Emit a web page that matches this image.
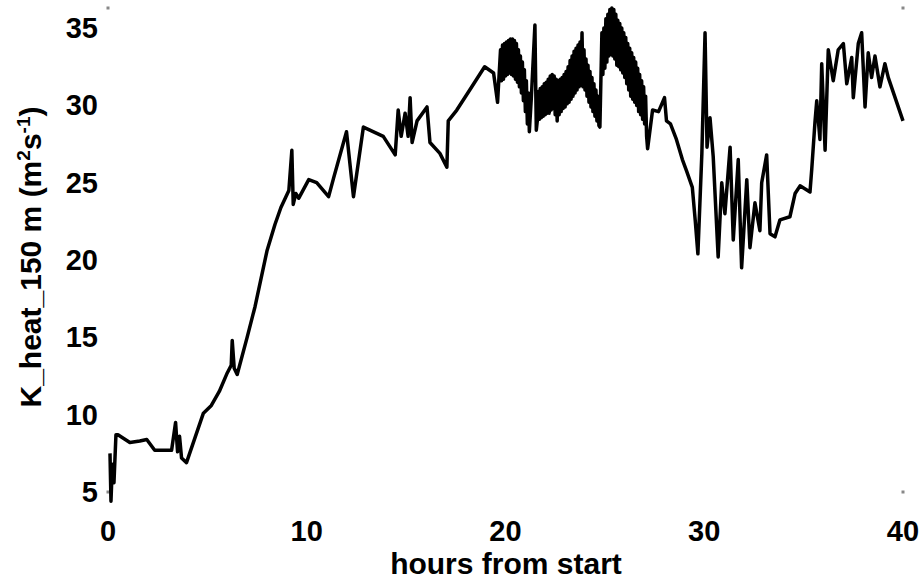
<!DOCTYPE html>
<html>
<head>
<meta charset="utf-8">
<script src="https://cdn.jsdelivr.net/npm/d3@7"></script>
<style>
  html, body { margin: 0; padding: 0; background: #fff; }
  svg { display: block; font-family: "Liberation Sans", Arial, sans-serif; }
</style>
</head>
<body>
<div id="chart"></div>
<script>
// time since start (h)
var hours = [
  0.10, 0.15, 0.22, 0.30, 0.40, 0.50, 1.10, 1.60, 1.95, 2.35, 3.20, 3.40, 3.50, 3.60, 3.70, 3.95,
  4.40, 4.80, 5.20, 5.60, 6.00, 6.20, 6.25, 6.35, 6.50, 7.00, 7.40, 8.00, 8.40, 8.70, 9.10, 9.25,
  9.32, 9.45, 9.60, 10.10, 10.50, 11.10, 11.35, 12.00, 12.35, 12.85, 13.85, 14.45, 14.60, 14.75, 14.95, 15.10,
  15.20, 15.30, 15.55, 16.05, 16.20, 16.70, 17.05, 17.12, 17.55, 18.20, 18.95, 19.40, 19.60, 19.75,
  19.80, 19.85, 19.90, 19.95, 20.00, 20.05, 20.10, 20.15, 20.20, 20.25, 20.30, 20.35, 20.40, 20.45, 20.50, 20.55,
  20.60, 20.65, 20.70, 20.75, 20.80, 20.85, 20.90, 20.95, 21.00, 21.05, 21.10, 21.15, 21.20, 21.30, 21.48, 21.55,
  21.60, 21.65, 21.70, 21.75, 21.80, 21.85, 21.90, 21.95, 22.00, 22.05, 22.10, 22.15, 22.20, 22.25, 22.30, 22.35,
  22.40, 22.45, 22.50, 22.55, 22.60, 22.65, 22.70, 22.75, 22.80, 22.85, 22.90, 22.95, 23.00, 23.05, 23.10, 23.15,
  23.20, 23.25, 23.30, 23.35, 23.40, 23.45, 23.50, 23.55, 23.60, 23.65, 23.70, 23.75, 23.80, 23.85, 23.90, 23.95,
  24.00, 24.05, 24.10, 24.15, 24.20, 24.25, 24.30, 24.35, 24.40, 24.45, 24.50, 24.55, 24.60, 24.65, 24.70, 24.75,
  24.85,
  24.90, 24.95, 25.00, 25.05, 25.10, 25.15, 25.20, 25.25, 25.30, 25.35, 25.40, 25.45, 25.50, 25.55, 25.60, 25.65,
  25.70, 25.75, 25.80, 25.85, 25.90, 25.95, 26.00, 26.05, 26.10, 26.15, 26.20, 26.25, 26.30, 26.35, 26.40, 26.45,
  26.50, 26.55, 26.60, 26.65, 26.70, 26.75, 26.80, 26.85, 26.90, 26.95, 27.00, 27.05, 27.10, 27.15,
  27.40, 27.70, 28.00, 28.10, 28.30, 28.60, 28.90, 29.10, 29.40, 29.55, 29.68, 29.88,
  30.04, 30.14, 30.29, 30.45, 30.70, 30.88, 31.04, 31.30, 31.46, 31.71, 31.88,
  32.14, 32.30, 32.55, 32.80, 32.89, 33.14, 33.31, 33.56, 33.81, 34.31, 34.57, 34.82, 35.32, 35.41, 35.57, 35.66,
  35.82, 35.91, 36.08, 36.24, 36.49, 36.74, 37.00, 37.17, 37.42, 37.50, 37.75, 37.92, 38.09, 38.25, 38.42, 38.59,
  38.84, 39.09, 39.26, 40.00
];

// K_heat at 150 m (m2 s-1)
var kHeat = [
  7.5, 4.4, 6.8, 5.6, 8.7, 8.7, 8.2, 8.3, 8.4, 7.7, 7.7, 9.5, 7.6, 8.6, 7.2, 6.9,
  8.6, 10.1, 10.6, 11.5, 12.7, 13.2, 14.8, 13.0, 12.6, 15.0, 17.0, 20.6, 22.3, 23.4, 24.5, 27.1,
  23.6, 24.3, 24.0, 25.2, 25.0, 24.1, 25.3, 28.3, 24.1, 28.6, 28.0, 26.8, 29.7, 28.0, 29.5, 28.0,
  30.5, 27.6, 29.0, 29.9, 27.6, 26.9, 26.0, 29.0, 29.7, 31.0, 32.5, 32.1, 30.2, 33.6,
  31.6, 33.9, 31.7, 34.0, 31.9, 34.1, 32.0, 34.2, 32.1, 34.3, 32.0, 34.3, 31.9, 34.2, 31.7, 34.0,
  31.5, 33.6, 31.2, 33.2, 30.8, 32.8, 30.3, 32.3, 29.6, 31.6, 28.8, 30.8, 28.3, 30.5, 35.2, 28.4,
  29.0, 30.9, 29.1, 31.1, 29.2, 31.2, 29.3, 31.4, 29.4, 31.5, 29.5, 31.7, 29.5, 31.9, 29.7, 32.0,
  29.8, 31.9, 29.4, 31.7, 29.0, 31.6, 29.4, 31.7, 29.6, 31.8, 29.8, 32.0, 29.9, 32.2, 30.1, 32.5,
  30.2, 32.9, 30.4, 33.2, 30.6, 33.5, 30.8, 33.7, 31.0, 33.9, 31.2, 34.1, 31.3, 34.7, 31.2, 33.6,
  31.0, 33.0, 30.6, 32.6, 30.2, 32.2, 29.9, 31.8, 29.6, 31.4, 29.3, 31.0, 29.0, 30.6, 28.7, 28.6,
  34.7,
  32.0, 35.0, 32.4, 35.6, 32.8, 35.9, 33.2, 36.2, 33.3, 36.3, 33.2, 36.2, 33.0, 35.9, 32.6, 35.5,
  32.5, 35.3, 32.3, 35.0, 32.1, 34.7, 31.8, 34.4, 31.4, 34.0, 31.0, 33.7, 30.6, 33.4, 30.4, 33.1,
  30.2, 32.8, 30.0, 32.4, 29.6, 32.0, 29.4, 31.6, 29.1, 31.2, 28.8, 30.6, 28.0, 27.2,
  29.7, 29.6, 30.5, 29.0, 28.8, 27.8, 26.5, 25.8, 24.7, 22.5, 20.4, 26.9,
  34.7, 27.3, 29.2, 26.7, 20.2, 25.0, 23.0, 27.3, 21.3, 26.5, 19.5,
  25.2, 20.8, 23.7, 21.9, 25.0, 26.8, 21.7, 21.5, 22.6, 22.8, 24.3, 24.8, 24.4, 25.9, 28.9, 30.3,
  27.8, 32.7, 27.1, 33.6, 31.6, 33.6, 34.0, 31.4, 33.1, 30.5, 34.0, 34.7, 29.9, 33.4, 31.8, 33.2,
  31.2, 32.7, 31.8, 29.0
];

var xTicks = [0, 10, 20, 30, 40];
var yTicks = [5, 10, 15, 20, 25, 30, 35];

var width = 920,
  height = 582,
  margin = { top: 8, right: 17, bottom: 90, left: 108 };

var svg = d3
  .select("#chart")
  .append("svg")
  .attr("width", width)
  .attr("height", height);

var x = d3
  .scaleLinear()
  .domain([0, 40])
  .range([margin.left, width - margin.right]);

var y = d3
  .scaleLinear()
  .domain([5, 36.3])
  .range([height - margin.bottom, margin.top]);

// corner marks of the (invisible) axes box
var corners = [
  [0, 5],
  [40, 5],
  [0, 36.3],
  [40, 36.3],
];
svg
  .selectAll("rect.corner")
  .data(corners)
  .join("rect")
  .attr("class", "corner")
  .attr("x", (d) => x(d[0]) - 1.5)
  .attr("y", (d) => y(d[1]) - 1.5)
  .attr("width", 3)
  .attr("height", 3)
  .attr("fill", "#888");

//x tick labels
svg
  .append("g")
  .selectAll("text")
  .data(xTicks)
  .join("text")
  .attr("x", (d) => x(d))
  .attr("y", 541)
  .attr("text-anchor", "middle")
  .attr("font-size", 29)
  .attr("font-weight", "bold")
  .text((d) => d);

//y tick labels
svg
  .append("g")
  .selectAll("text")
  .data(yTicks)
  .join("text")
  .attr("x", 98)
  .attr("y", (d) => y(d) + 10)
  .attr("text-anchor", "end")
  .attr("font-size", 29)
  .attr("font-weight", "bold")
  .text((d) => d);

// axis titles
svg
  .append("text")
  .attr("x", 506)
  .attr("y", 574)
  .attr("text-anchor", "middle")
  .attr("font-size", 30)
  .attr("font-weight", "bold")
  .text("hours from start");

var yTitle = svg
  .append("text")
  .attr("transform", "translate(41,257) rotate(-90)")
  .attr("text-anchor", "middle")
  .attr("font-size", 30)
  .attr("font-weight", "bold");
yTitle.append("tspan").text("K_heat_150 m (m");
yTitle.append("tspan").attr("font-size", 19).attr("dy", -11).text("2");
yTitle.append("tspan").attr("dy", 11).text("s");
yTitle.append("tspan").attr("font-size", 19).attr("dy", -11).text("-1");
yTitle.append("tspan").attr("dy", 11).text(")");

// the series
var line = d3
  .line()
  .x((d) => x(d[0]))
  .y((d) => y(d[1]));

svg
  .append("path")
  .datum(d3.zip(hours, kHeat))
  .attr("fill", "none")
  .attr("stroke", "#000")
  .attr("stroke-width", 3.5)
  .attr("stroke-linejoin", "round")
  .attr("d", line);
</script>
</body>
</html>
